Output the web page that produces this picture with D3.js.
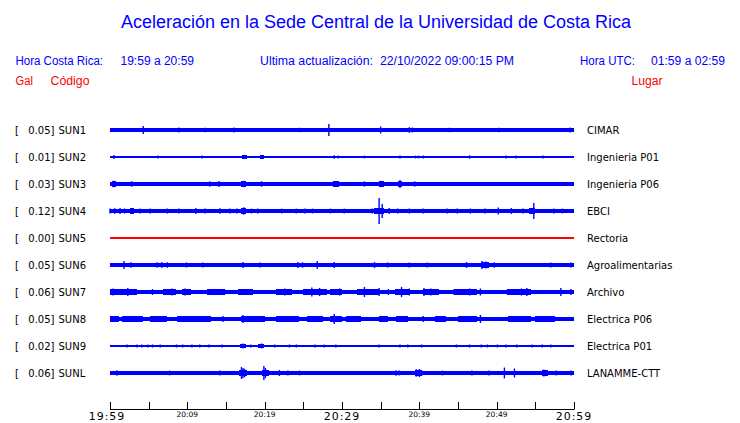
<!DOCTYPE html>
<html><head><meta charset="utf-8">
<script src="https://cdn.jsdelivr.net/npm/d3@7"></script>
<style>body{margin:0;background:#fff}svg{display:block}</style>
</head><body>
<script>
// ---------- DATA ----------
const title = "Aceleración en la Sede Central de la Universidad de Costa Rica";
const headerLocal = ["Hora Costa Rica:", "19:59 a 20:59"];
const headerUpdate = ["Ultima actualización:", "22/10/2022 09:00:15 PM"];
const headerUtc = ["Hora UTC:", "01:59 a 02:59"];
const colHeaders = ["Gal", "Código", "Lugar"];

const codes = ["SUN1","SUN2","SUN3","SUN4","SUN5","SUN6","SUN7","SUN8","SUN9","SUNL"];
const peaks = ["0.05","0.01","0.03","0.12","0.00","0.05","0.06","0.05","0.02","0.06"];
const places = ["CIMAR","Ingenieria P01","Ingenieria P06","EBCI","Rectoria","Agroalimentarias","Archivo","Electrica P06","Electrica P01","LANAMME-CTT"];
const active = [true,true,true,true,false,true,true,true,true,true];

// relative background amplitude of each trace
const baseAmp = [0.11,0.04,0.15,0.13,0.04,0.14,0.16,0.17,0.06,0.15];

// spikes: [minute after 19:59, relative amplitude]
const spikes = [
  [[4.3,0.29],[8.9,0.18],[12.3,0.16],[16.0,0.18],[24.5,0.16],[28.3,0.43],[35.0,0.25],[38.7,0.2],[39.1,0.18],[43.9,0.16],[50.3,0.16],[59.5,0.17]],
  [[0.5,0.14],[6.2,0.1],[11.9,0.1],[17.3,0.14],[19.6,0.14],[29.0,0.12],[29.5,0.1],[32.9,0.1],[37.5,0.1],[39.5,0.1],[39.9,0.1],[40.5,0.1],[46.5,0.12],[51.2,0.1],[52.5,0.1],[56.0,0.1]],
  [[0.5,0.23],[2.8,0.2],[12.9,0.2],[14.1,0.22],[17.3,0.23],[19.6,0.2],[29.0,0.2],[29.4,0.2],[32.9,0.19],[35.0,0.22],[37.5,0.27],[39.4,0.19]],
  [[0,0.18],[0.6,0.2],[1.3,0.21],[1.9,0.18],[2.8,0.21],[3.9,0.17],[5.2,0.17],[7.4,0.17],[8.9,0.17],[11.1,0.21],[12.3,0.17],[14.2,0.2],[15.5,0.17],[16.4,0.17],[17.3,0.27],[18.3,0.17],[19.1,0.17],[22.2,0.17],[24.1,0.17],[25.2,0.17],[26.2,0.17],[28.5,0.17],[30.3,0.17],[33.9,0.18],[34.8,0.93],[35.2,0.5],[36.1,0.21],[37.2,0.18],[38.7,0.17],[40.5,0.17],[43.6,0.17],[44.9,0.17],[46.6,0.18],[48.5,0.18],[50.2,0.25],[51.9,0.21],[53.4,0.18],[54.8,0.57],[57.4,0.17],[58.5,0.17]],
  [],
  [[1.8,0.29],[2.7,0.19],[6.1,0.19],[6.7,0.21],[7.4,0.19],[9.9,0.18],[12.0,0.18],[17.2,0.22],[19.4,0.18],[24.3,0.21],[24.9,0.19],[26.8,0.29],[29.0,0.22],[34.2,0.21],[35.9,0.18],[38.7,0.18],[41.0,0.18],[46.1,0.21],[48.1,0.29],[48.6,0.25],[49.7,0.19],[57.0,0.17],[59.6,0.17]],
  [[0.4,0.25],[2.3,0.29],[5.5,0.21],[8.0,0.25],[9.7,0.25],[13.5,0.22],[14.8,0.22],[17.4,0.21],[22.6,0.25],[23.2,0.22],[26.1,0.32],[27.1,0.29],[29.7,0.25],[32.9,0.36],[34.6,0.21],[34.8,0.29],[36.0,0.21],[37.7,0.36],[38.7,0.25],[40.6,0.29],[41.5,0.25],[44.5,0.21],[46.5,0.25],[47.9,0.25],[51.4,0.21],[53.2,0.25],[53.9,0.29],[58.3,0.29],[59.6,0.21]],
  [[0.4,0.22],[2.3,0.22],[6.5,0.21],[10.3,0.21],[14.6,0.21],[17.2,0.29],[19.7,0.22],[23.2,0.21],[26.5,0.21],[29.0,0.36],[31.6,0.21],[35.0,0.21],[37.4,0.22],[40.5,0.21],[42.6,0.21],[45.8,0.21],[47.9,0.29],[52.3,0.21],[55.5,0.21],[57.4,0.21]],
  [[2.2,0.11],[3.5,0.11],[4.1,0.11],[4.9,0.11],[5.5,0.11],[6.5,0.11],[8.6,0.11],[9.4,0.11],[10.6,0.11],[11.6,0.11],[12.8,0.11],[14.5,0.11],[17.2,0.18],[18.2,0.11],[19.6,0.18],[21.3,0.11],[23.2,0.11],[24.1,0.11],[26.5,0.11],[27.7,0.11],[29.2,0.11],[34.8,0.11],[37.5,0.11],[38.5,0.11],[40.3,0.11],[44.8,0.11],[46.5,0.11],[48.0,0.11],[48.8,0.11],[50.1,0.11],[51.2,0.11],[52.6,0.11],[54.6,0.11],[55.9,0.11],[57.0,0.11]],
  [[0.9,0.2],[7.7,0.17],[14.2,0.17],[17.0,0.43],[17.2,0.36],[17.4,0.3],[19.9,0.5],[20.1,0.36],[21.9,0.22],[23.0,0.18],[24.5,0.17],[37.0,0.2],[37.4,0.18],[39.6,0.27],[40.0,0.29],[40.3,0.21],[43.0,0.17],[46.8,0.17],[49.0,0.17],[51.0,0.39],[52.3,0.32],[56.1,0.25],[56.5,0.21],[57.7,0.17],[59.6,0.17]]
];

// stronger shaking intervals: [from minute, to minute, relative amplitude]
const bursts = [
  [[37.5,39.7,0.13]],
  [[17.1,17.7,0.12],[19.4,19.9,0.12]],
  [[0.2,0.8,0.19],[16.9,17.6,0.19],[28.8,29.6,0.18],[34.8,35.4,0.18],[37.2,37.8,0.21]],
  [[0,2.2,0.17],[2.6,3.1,0.19],[17.0,17.6,0.19],[34.2,35.4,0.2],[54.2,55.0,0.2]],
  [],
  [[0,4.5,0.16],[6.0,7.6,0.17],[9.6,10.4,0.16],[18.8,19.8,0.16],[23.6,25.2,0.17],[26.4,29.5,0.16],[33.8,34.6,0.16],[48.0,49.0,0.18]],
  [[0,3.5,0.2],[6.8,8.5,0.19],[9.3,10.5,0.19],[12.5,14.8,0.19],[16.5,18.5,0.19],[21.5,23.5,0.2],[25.0,28.0,0.21],[28.5,30.0,0.2],[32.0,34.8,0.19],[36.8,38.8,0.2],[40.5,42.5,0.2],[44.5,47.5,0.19],[51.5,54.5,0.2]],
  [[0,1.2,0.2],[1.6,4.3,0.19],[5.2,7.4,0.19],[8.6,13.0,0.19],[17.0,20.0,0.19],[21.5,24.5,0.19],[25.5,27.5,0.19],[28.5,30.0,0.2],[30.5,32.5,0.19],[34.8,36.0,0.19],[37.0,38.5,0.19],[42.0,43.5,0.19],[45.0,47.5,0.19],[51.5,54.5,0.19],[55.0,57.5,0.19]],
  [[0,1.0,0.1],[13.8,15.2,0.1],[16.8,17.6,0.12],[19.2,19.9,0.12],[21.0,22.3,0.1],[23.0,24.3,0.1],[29.0,29.8,0.1],[37.3,37.8,0.1],[40.0,40.8,0.1]],
  [[16.7,17.7,0.22],[19.6,20.5,0.24],[39.4,40.4,0.2],[55.9,56.6,0.2]]
];

const tickMinutes = [0,5,10,15,20,25,30,35,40,45,50,55,60];
const tickLabels = {0:"19:59",10:"20:09",20:"20:19",30:"20:29",40:"20:39",50:"20:49",60:"20:59"};
const majorLabels = ["19:59","20:29","20:59"];

// ---------- DRAW ----------
const W = 740, H = 423;
const blue = "#0000ff", red = "#ff0000";
const svg = d3.select("body").append("svg").attr("width", W).attr("height", H);

const x = d3.scaleLinear().domain([0, 60]).range([110, 574]);
const yRow = d3.scalePoint().domain(codes).range([130, 373]);
const amp = d3.scaleLinear().domain([0, 1]).range([0, 14]);

const SANS = "'Liberation Sans', Arial, sans-serif";
const DV = "'DejaVu Sans', sans-serif";

// title and header
svg.append("text").attr("x", 121).attr("y", 28).attr("textLength", 510).attr("lengthAdjust","spacingAndGlyphs")
  .attr("font-family", SANS).attr("font-size", 18).attr("fill", blue).text(title);

function ht(t, x0, w, y, col) {
  svg.append("text").attr("x", x0).attr("y", y).attr("textLength", w).attr("lengthAdjust","spacingAndGlyphs")
    .attr("font-family", SANS).attr("font-size", 12).attr("fill", col).text(t);
}
ht(headerLocal[0], 15.5, 87.5, 65, blue);
ht(headerLocal[1], 120.5, 73.5, 65, blue);
ht(headerUpdate[0], 260, 113, 65, blue);
ht(headerUpdate[1], 380, 134, 65, blue);
ht(headerUtc[0], 580, 55, 65, blue);
ht(headerUtc[1], 651, 74, 65, blue);
ht(colHeaders[0], 15.5, 17.5, 85, red);
ht(colHeaders[1], 50.5, 39, 85, red);
ht(colHeaders[2], 631.5, 31, 85, red);

// traces
codes.forEach((c, i) => {
  const y0 = yRow(c);
  const col = active[i] ? blue : red;
  const g = svg.append("g");
  // left labels
  g.append("text").attr("x", 15).attr("y", y0 + 4).attr("font-family", DV).attr("font-size", 10).attr("fill", "#000").text("[");
  g.append("text").attr("x", 54.5).attr("y", y0 + 4).attr("text-anchor", "end").attr("font-family", DV).attr("font-size", 10).attr("fill", "#000").text(peaks[i] + "]");
  g.append("text").attr("x", 58.5).attr("y", y0 + 4).attr("font-family", DV).attr("font-size", 10).attr("fill", "#000").text(c);
  g.append("text").attr("x", 587).attr("y", y0 + 4).attr("font-family", DV).attr("font-size", 10).attr("fill", "#000").text(places[i]);

  // background band
  const bh = Math.max(1, 2 * amp(baseAmp[i]));
  g.append("rect").attr("x", x(0)).attr("width", x(60) - x(0))
    .attr("y", y0 - bh / 2).attr("height", bh).attr("fill", col).attr("shape-rendering", "crispEdges");
  // bursts
  g.selectAll("rect.b").data(bursts[i]).join("rect").attr("class", "b")
    .attr("x", d => x(d[0])).attr("width", d => Math.max(1, x(d[1]) - x(d[0])))
    .attr("y", d => y0 - amp(d[2])).attr("height", d => 2 * amp(d[2]))
    .attr("fill", col).attr("shape-rendering", "crispEdges");
  // spikes
  g.selectAll("line.s").data(spikes[i]).join("line").attr("class", "s")
    .attr("x1", d => x(d[0])).attr("x2", d => x(d[0]))
    .attr("y1", d => y0 - amp(d[1])).attr("y2", d => y0 + amp(d[1]))
    .attr("stroke", col).attr("stroke-width", 1.4);
});

// time axis
const ax = svg.append("g");
ax.append("line").attr("x1", x(0)).attr("x2", x(60)).attr("y1", 409.5).attr("y2", 409.5).attr("stroke", "#000");
ax.selectAll("line.t").data(tickMinutes).join("line").attr("class", "t")
  .attr("x1", d => Math.round(x(d)) + 0.5).attr("x2", d => Math.round(x(d)) + 0.5)
  .attr("y1", 402).attr("y2", 409.5).attr("stroke", "#000");
ax.selectAll("text").data(tickMinutes.filter(d => tickLabels[d])).join("text")
  .attr("x", d => x(d) + (d === 0 ? -3 : 0))
  .attr("y", d => majorLabels.includes(tickLabels[d]) ? 420 : 417)
  .attr("text-anchor", "middle").attr("font-family", DV)
  .attr("font-size", d => majorLabels.includes(tickLabels[d]) ? 11 : 7.5)
  .attr("letter-spacing", d => majorLabels.includes(tickLabels[d]) ? 1 : 0)
  .attr("fill", "#000").text(d => tickLabels[d]);
</script>
</body></html>
